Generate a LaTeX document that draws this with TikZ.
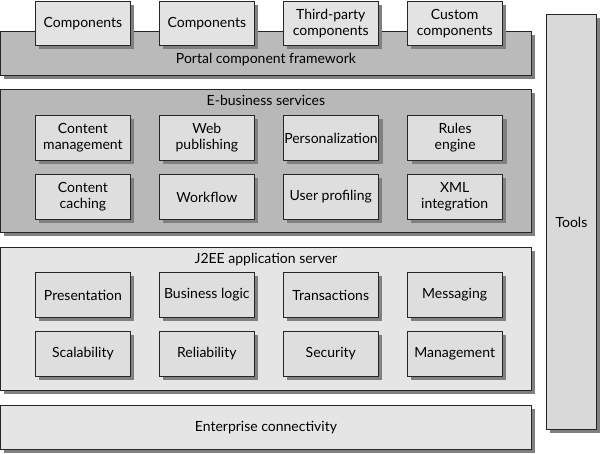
\documentclass[tikz,border=0pt]{standalone}
\usepackage{fontspec}
\setmainfont{Lato}
\usetikzlibrary{positioning, shadows}

\begin{document}
\begin{tikzpicture}[
  x=1pt, y=-1pt,
  font=\fontsize{14}{16}\selectfont,
  shade/.style={drop shadow={shadow xshift=4pt, shadow yshift=-4pt, fill=black!50, opacity=1}},
  layer/.style={draw=black!85, line width=0.9pt, anchor=north west, inner sep=0pt, minimum width=531pt, shade},
  part/.style={draw=black!85, line width=0.9pt, fill=black!13, align=center, inner sep=1pt, minimum width=95pt, minimum height=45pt, shade},
  comp/.style={part, fill=black!11, minimum height=44pt},
  title/.style={inner sep=1pt},
]
\useasboundingbox (0,0) rectangle (600,454);

% tools column on the right
\node[layer, fill=black!15, minimum width=50pt, minimum height=415pt] (tools) at (546,14) {};
\node[title] (toolstext) at (tools.center) {Tools};

% portal layer with its components on top
\node[layer, fill=black!27, minimum height=44pt] (portal) at (0,31) {};
\node[title, anchor=south] (portaltext) at ([yshift=9pt]portal.south) {Portal component framework};
\node[comp, anchor=north west] (comp1) at (35,1) {Components};
\node[comp, right=28pt of comp1] (comp2) {Components};
\node[comp, right=28pt of comp2] (comp3) {Third-party\\components};
\node[comp, right=28pt of comp3] (comp4) {Custom\\components};

% e-business services
\node[layer, fill=black!28, minimum height=143pt] (ebiz) at (0,89) {};
\node[title, anchor=north] (ebiztext) at ([yshift=-5pt]ebiz.north) {E-business services};
\node[part, anchor=north west] (content) at (35,115) {Content\\management};
\node[part, right=28pt of content] (webpub) {Web\\publishing};
\node[part, right=28pt of webpub] (personal) {Personalization};
\node[part, right=28pt of personal] (rules) {Rules\\engine};
\node[part, anchor=north west] (caching) at (35,174) {Content\\caching};
\node[part, right=28pt of caching] (workflow) {Workflow};
\node[part, right=28pt of workflow] (profiling) {User profiling};
\node[part, right=28pt of profiling] (xml) {XML\\integration};

% j2ee application server
\node[layer, fill=black!10, minimum height=143pt] (j2ee) at (0,247) {};
\node[title, anchor=north] (j2eetext) at ([yshift=-5pt]j2ee.north) {J2EE application server};
\node[part, anchor=north west] (present) at (35,272) {Presentation};
\node[part, right=28pt of present] (logic) {Business logic};
\node[part, right=28pt of logic] (trans) {Transactions};
\node[part, right=28pt of trans] (msg) {Messaging};
\node[part, anchor=north west] (scale) at (35,331) {Scalability};
\node[part, right=28pt of scale] (reliab) {Reliability};
\node[part, right=28pt of reliab] (secur) {Security};
\node[part, right=28pt of secur] (manage) {Management};

% enterprise connectivity
\node[layer, fill=black!10, minimum height=44pt] (conn) at (0,405) {};
\node[title] (conntext) at (conn.center) {Enterprise connectivity};
\end{tikzpicture}
\end{document}
